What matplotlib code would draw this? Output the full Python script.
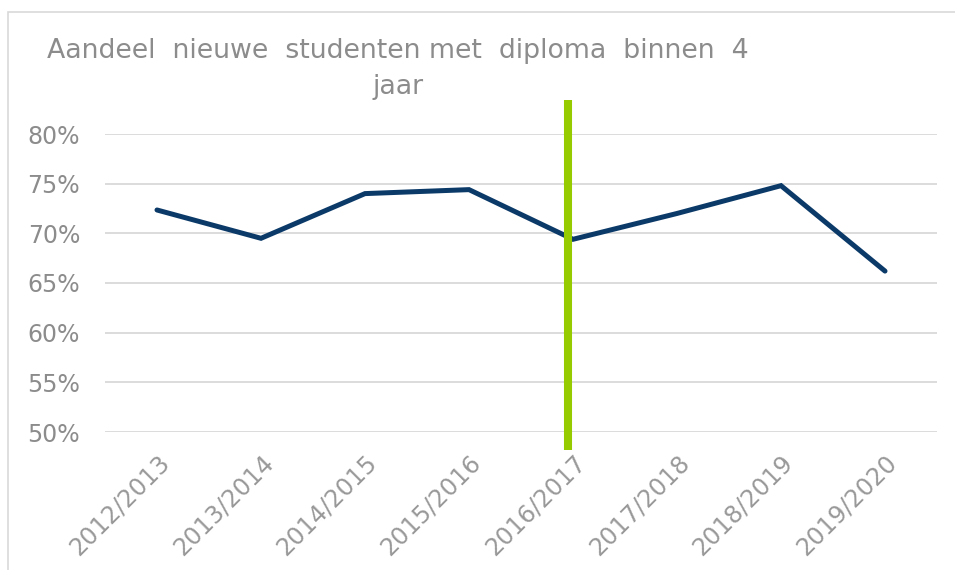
import matplotlib
matplotlib.use("Agg")
import matplotlib.pyplot as plt
import matplotlib.transforms as mtransforms
from matplotlib.patches import Rectangle

categories = ["2012/2013", "2013/2014", "2014/2015", "2015/2016",
              "2016/2017", "2017/2018", "2018/2019", "2019/2020"]
values = [0.7235, 0.695, 0.740, 0.744, 0.694, 0.720, 0.748, 0.662]
yticks = [0.50, 0.55, 0.60, 0.65, 0.70, 0.75, 0.80]
ytick_labels = ["50%", "55%", "60%", "65%", "70%", "75%", "80%"]
marker_category = "2016/2017"
title_lines = ["Aandeel  nieuwe  studenten met  diploma  binnen  4", "jaar"]

W, H = 955, 570
fig = plt.figure(figsize=(W / 100, H / 100), dpi=100)
fig.patch.set_facecolor("white")

# chart border (light)
fig.add_artist(Rectangle((8 / W, -0.01), 1.2, 1 - 12 / H + 0.01,
                         transform=fig.transFigure, fill=False,
                         edgecolor="#D9D9D9", linewidth=1.2))

ax = fig.add_axes([105 / W, 138 / H, (937 - 105) / W, (432 - 134) / H])
x = list(range(len(categories)))
ax.set_xlim(-0.5, len(categories) - 0.5)
ax.set_ylim(0.5, 0.8)

for t in yticks:
    ax.axhline(t, color="#D9D9D9", linewidth=1.3, zorder=1)

ax.plot(x, values, color="#0B3A69", linewidth=3.6, zorder=3,
        solid_joinstyle="miter", solid_capstyle="round")

mi = categories.index(marker_category) - 0.045
ax.plot([mi, mi], [0.834, 0.482], color="#96CB00", linewidth=5.8,
        clip_on=False, zorder=4, solid_capstyle="butt")

for s in ax.spines.values():
    s.set_visible(False)
ax.tick_params(length=0)
ax.set_yticks(yticks)
ax.set_yticklabels(ytick_labels)
ax.set_xticks(x)
ax.set_xticklabels(categories, rotation=45, ha="right",
                   rotation_mode="anchor")
for lab in ax.get_yticklabels():
    lab.set_fontsize(17)
    lab.set_color("#8C8C8C")
offset = mtransforms.ScaledTranslation(-7 / 100, 0, fig.dpi_scale_trans)
for lab in ax.get_xticklabels():
    lab.set_fontsize(17.3)
    lab.set_color("#999999")
    lab.set_transform(lab.get_transform() + offset)
ax.tick_params(axis="y", pad=18)
ax.tick_params(axis="x", pad=13)

fig.text(398 / W, 1 - 51 / H, title_lines[0], ha="center", va="center",
         fontsize=19.3, color="#8C8C8C")
fig.text(398 / W, 1 - 87 / H, title_lines[1], ha="center", va="center",
         fontsize=19.3, color="#8C8C8C")

fig.savefig("out.png", dpi=100, facecolor="white")
